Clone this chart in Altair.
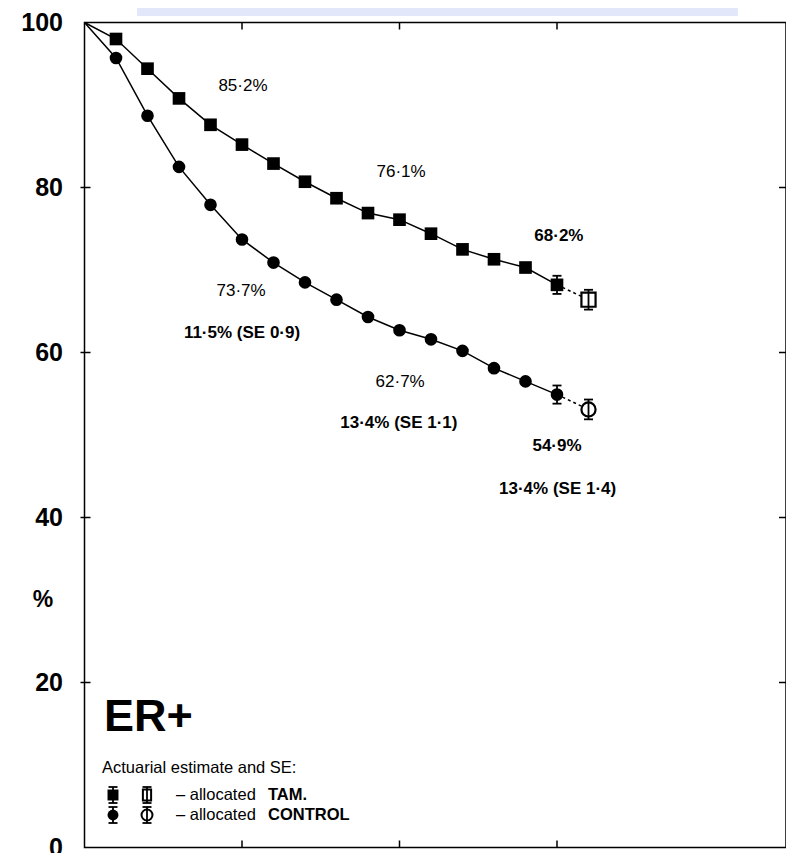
import altair as alt
import pandas as pd

# ---------------- data ----------------
years = list(range(0, 17))
tam_pct = [100, 98.0, 94.4, 90.8, 87.6, 85.2, 82.9, 80.7, 78.7, 76.9, 76.1,
           74.4, 72.5, 71.3, 70.3, 68.2, 66.4]
ctl_pct = [100, 95.7, 88.7, 82.5, 77.9, 73.7, 70.9, 68.5, 66.4, 64.3, 62.7,
           61.6, 60.2, 58.1, 56.5, 54.9, 53.1]
se_years = [15, 16]
tam_se = [1.1, 1.2]
ctl_se = [1.1, 1.2]
groups = ["TAM", "CONTROL"]
y_ticks = [0, 20, 40, 60, 80, 100]
inner_y_ticks = [20, 40, 60, 80]
x_ticks = [5, 10, 15]

ann_text = ["85·2%", "76·1%", "68·2%", "73·7%", "11·5% (SE 0·9)", "62·7%",
            "13·4% (SE 1·1)", "54·9%", "13·4% (SE 1·4)"]
ann_year = [5.03, 10.05, 15.06, 4.97, 5.0, 10.02, 9.98, 15.0, 15.02]
ann_pct = [92.3, 81.9, 74.1, 67.5, 62.4, 56.4, 51.4, 48.7, 43.5]
ann_bold = [False, False, True, False, True, False, True, True, True]

# ---------------- tables ----------------
rows = []
for g, vals in zip(groups, [tam_pct, ctl_pct]):
    for yr, p in zip(years, vals):
        rows.append({"year": yr, "pct": p, "group": g})
df = pd.DataFrame(rows)

err_rows = []
for g, vals, ses in zip(groups, [tam_pct, ctl_pct], [tam_se, ctl_se]):
    for yr, se in zip(se_years, ses):
        p = vals[years.index(yr)]
        err_rows.append({"year": yr, "pct": p, "lo": p - se, "hi": p + se, "group": g})
err = pd.DataFrame(err_rows)
err_caps = pd.concat([
    err.assign(cap=err["lo"]), err.assign(cap=err["hi"])
])

ann = pd.DataFrame({"text": ann_text, "year": ann_year, "pct": ann_pct, "bold": ann_bold})
yt = pd.DataFrame({"pct": inner_y_ticks})
xt = pd.DataFrame({"year": x_ticks})
one = pd.DataFrame({"k": [0]})

W, H = 701.5, 825
XMAX = W / 31.5
FONT = "Liberation Sans"

xs = alt.Scale(domain=[0, XMAX], nice=False, zero=False)
ys = alt.Scale(domain=[0, 100], nice=False, zero=False)
YAX = alt.Axis(
    values=y_ticks, ticks=False, domain=False, grid=False, title=None,
    labelFont=FONT, labelFontSize=25, labelFontWeight="bold",
    labelColor="black", labelPadding=22)
X = alt.X("year:Q", scale=xs, axis=None)
Y = alt.Y("pct:Q", scale=ys, axis=YAX)

square_path = "M-0.75,-1H0.75V1H-0.75Z"

solid = alt.Chart(df).transform_filter("datum.year <= 15").mark_line(
    color="black", strokeWidth=1.5).encode(x=X, y=Y, detail="group:N")
dashed = alt.Chart(df).transform_filter("datum.year >= 15").mark_line(
    color="black", strokeWidth=1.5, strokeDash=[3, 3]).encode(x=X, y=Y, detail="group:N")

filled = alt.Chart(df).transform_filter("datum.year >= 1 && datum.year <= 15").mark_point(
    filled=True, color="black", opacity=1, size=160).encode(
    x=X, y=Y,
    shape=alt.Shape("group:N", scale=alt.Scale(domain=groups, range=["square", "circle"]), legend=None))

open_pts = alt.Chart(df).transform_filter("datum.year == 16").mark_point(
    filled=False, fill="white", fillOpacity=1, stroke="black", strokeWidth=2.2,
    opacity=1, size=200).encode(
    x=X, y=Y,
    shape=alt.Shape("group:N", scale=alt.Scale(domain=groups, range=[square_path, "circle"]), legend=None))

err_rule = alt.Chart(err).mark_rule(color="black", strokeWidth=1.8).encode(
    x=X, y=alt.Y("lo:Q", scale=ys, axis=YAX), y2="hi:Q")
err_cap = alt.Chart(err_caps).mark_tick(orient="horizontal", color="black",
                                        size=9, thickness=1.8, opacity=1).encode(
    x=X, y=alt.Y("cap:Q", scale=ys, axis=YAX))

ann_norm = alt.Chart(ann).transform_filter("!datum.bold").mark_text(
    font=FONT, fontSize=17, color="black", align="center", baseline="middle").encode(
    x=X, y=Y, text="text:N")
ann_bold_l = alt.Chart(ann).transform_filter("datum.bold").mark_text(
    font=FONT, fontSize=17, fontWeight="bold", color="black", align="center",
    baseline="middle").encode(x=X, y=Y, text="text:N")

left_ticks = alt.Chart(yt).mark_rule(color="black", strokeWidth=1.5).encode(
    y=Y, x=alt.value(-4), x2=alt.value(6))
right_ticks = alt.Chart(yt).mark_rule(color="black", strokeWidth=1.5).encode(
    y=Y, x=alt.value(W - 7), x2=alt.value(W))
bottom_ticks = alt.Chart(xt).mark_rule(color="black", strokeWidth=1.5).encode(
    x=X, y=alt.value(H), y2=alt.value(H - 7))
top_ticks = alt.Chart(xt).mark_rule(color="black", strokeWidth=1.5).encode(
    x=X, y=alt.value(0), y2=alt.value(7))

# texts outside data
def txt(s, x, y, size, weight="normal", align="left"):
    return alt.Chart(one).mark_text(text=s, font=FONT, fontSize=size, fontWeight=weight,
                                    color="black", align=align, baseline="middle").encode(
        x=alt.value(x), y=alt.value(y))

pct_lab = txt("%", -41.5, 577.5, 23, "bold", "center")
er_lab = txt("ER+", 19.5, 694, 45, "bold")
act_lab = txt("Actuarial estimate and SE:", 17.5, 745, 16.5)
row1a = txt("– allocated ", 91.5, 772.5, 16.5)
row1b = txt("TAM.", 183.5, 772.5, 16.5, "bold")
row2a = txt("– allocated ", 91.5, 792.5, 16.5)
row2b = txt("CONTROL", 183.5, 792.5, 16.5, "bold")

def leg_sym(x, y, shape, filled_sym):
    parts = []
    parts.append(alt.Chart(one).mark_rule(color="black", strokeWidth=1.8).encode(
        x=alt.value(x), y=alt.value(y - 8), y2=alt.value(y + 8)))
    parts.append(alt.Chart(one).mark_rule(color="black", strokeWidth=1.8).encode(
        x=alt.value(x - 4.5), x2=alt.value(x + 4.5), y=alt.value(y - 8)))
    parts.append(alt.Chart(one).mark_rule(color="black", strokeWidth=1.8).encode(
        x=alt.value(x - 4.5), x2=alt.value(x + 4.5), y=alt.value(y + 8)))
    if filled_sym:
        m = alt.Chart(one).mark_point(shape=shape, filled=True, color="black", opacity=1,
                                      size=120).encode(x=alt.value(x), y=alt.value(y))
        return [parts[0], parts[1], parts[2], m]
    m = alt.Chart(one).mark_point(shape=shape, filled=False, fill="white", fillOpacity=1,
                                  stroke="black", strokeWidth=2, opacity=1,
                                  size=120).encode(x=alt.value(x), y=alt.value(y))
    return [m] + parts

legend_layers = (leg_sym(28.5, 772.5, "square", True) + leg_sym(62.5, 772.5, square_path, False)
                 + leg_sym(28.5, 792.5, "circle", True) + leg_sym(62.5, 792.5, "circle", False))

blue = alt.Chart(one).mark_rect(color="#e2e8fa").encode(
    x=alt.value(52.5), x2=alt.value(653.5), y=alt.value(-14.5), y2=alt.value(-6.5))

chart = alt.layer(
    blue, solid, dashed, filled, open_pts, err_rule, err_cap,
    ann_norm, ann_bold_l, left_ticks, right_ticks, bottom_ticks, top_ticks,
    pct_lab, er_lab, act_lab, row1a, row1b, row2a, row2b, *legend_layers
).properties(
    width=W, height=H,
    background="white",
    autosize=alt.AutoSizeParams(type="none"),
    padding={"left": 76.5, "top": 14.5, "right": 0, "bottom": 5},
).configure_view(stroke="black", strokeWidth=1.5)

chart.save("out.html", embed_options={"renderer": "svg", "actions": False})
